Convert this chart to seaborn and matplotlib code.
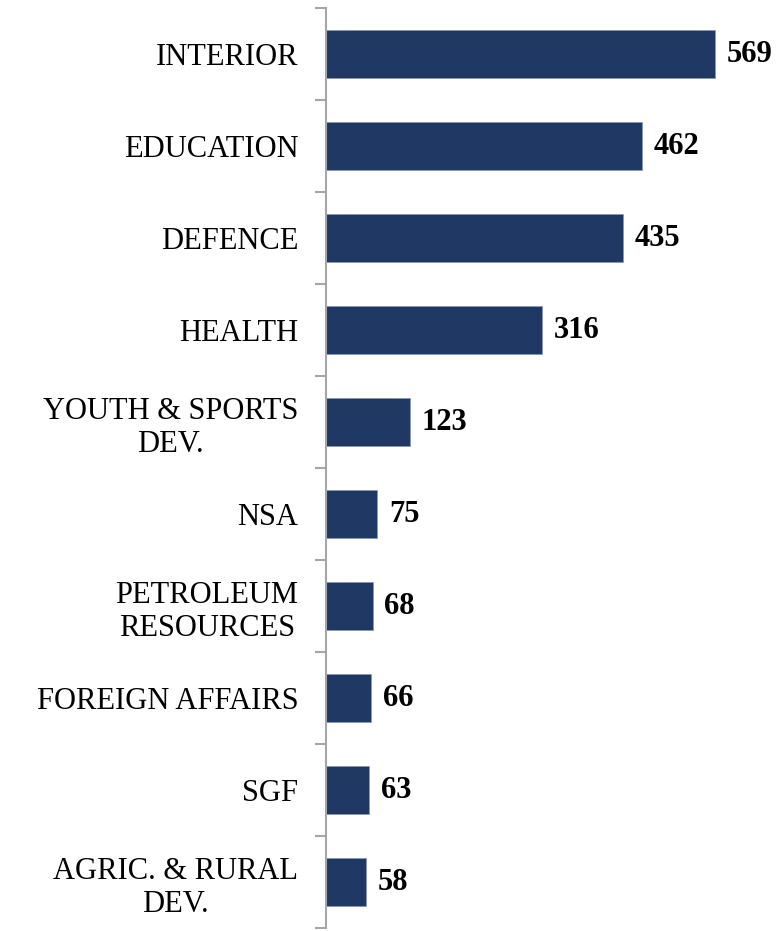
import matplotlib
matplotlib.use("Agg")
import matplotlib.pyplot as plt
import seaborn as sns
import pandas as pd

categories = ["INTERIOR", "EDUCATION", "DEFENCE", "HEALTH", "YOUTH & SPORTS\nDEV.",
              "NSA", "PETROLEUM\nRESOURCES", "FOREIGN AFFAIRS", "SGF", "AGRIC. & RURAL\nDEV."]
values = [569, 462, 435, 316, 123, 75, 68, 66, 63, 58]

df = pd.DataFrame({"cat": categories, "val": values})

sns.set_theme(style="white")
plt.rcParams['font.family'] = ['Liberation Serif', 'DejaVu Serif']

fig = plt.figure(figsize=(7.84, 9.31), dpi=100)
ax = fig.add_axes([0.416, 0.003, 0.584, 0.9884])
sns.barplot(data=df, x="val", y="cat", color="#203864", saturation=1, width=0.52,
            orient="h", ax=ax, edgecolor="#8A98B8", linewidth=0.6)

ax.set_xlim(0, 670)
ax.set_ylim(len(values) - 0.5, -0.5)
ax.set_xlabel("")
ax.set_ylabel("")
ax.set_xticks([])
for s in ["top", "right", "bottom"]:
    ax.spines[s].set_visible(False)
ax.spines["left"].set_color("#A6A6A6")
ax.spines["left"].set_linewidth(1.5)

# ticks at category boundaries
ax.set_yticks([i - 0.5 for i in range(len(values) + 1)], minor=False)
ax.set_yticklabels([])
ax.set_yticks(range(len(values)), minor=True)
ax.set_yticklabels(categories, minor=True, fontsize=22, ha="right", color="black")
ax.tick_params(axis="y", which="major", length=8, width=1.5, color="#A6A6A6", left=True)
ax.tick_params(axis="y", which="minor", length=0, pad=20)
for lbl in ax.get_yticklabels(minor=True):
    lbl.set_multialignment("center")
    lbl.set_linespacing(1.2)

for i, v in enumerate(values):
    ax.text(v + 17, i, str(v), va="center", ha="left", fontsize=22, fontweight="bold", color="black")

fig.savefig("out.png", dpi=100)
